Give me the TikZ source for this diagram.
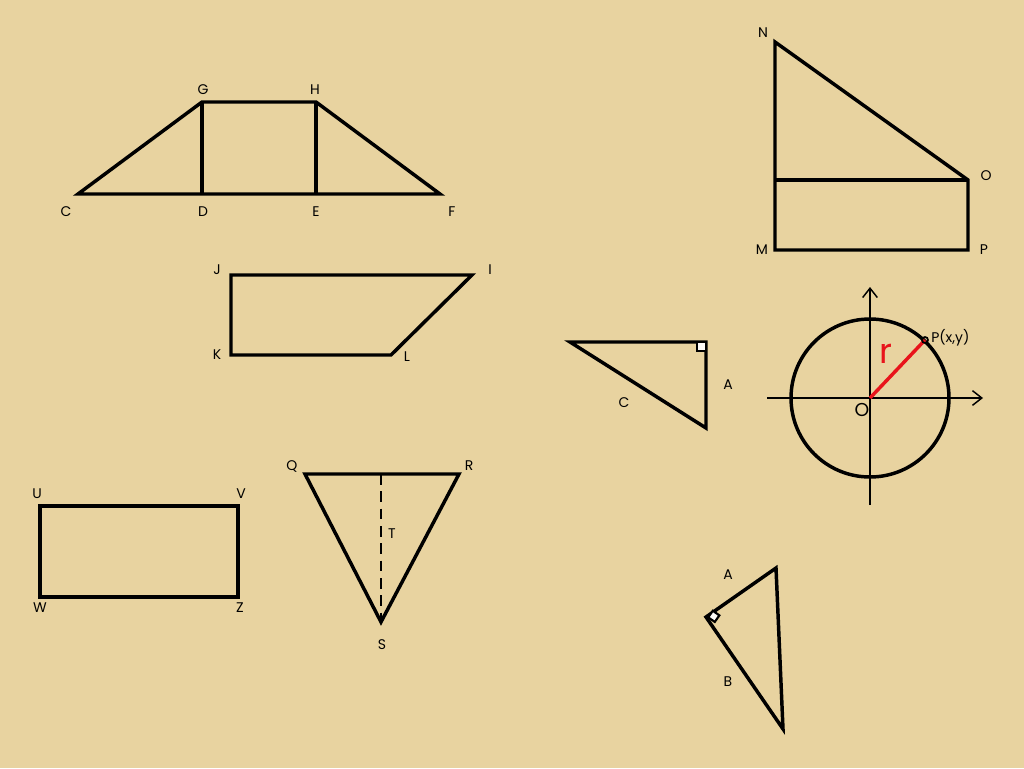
\documentclass[tikz,border=0pt]{standalone}
\usepackage{fontspec}
\setmainfont{Poppins}
\usetikzlibrary{arrows.meta}
\definecolor{paper}{HTML}{E8D3A0}
\definecolor{redline}{HTML}{E8141B}
\begin{document}
\begin{tikzpicture}[x=0.75pt,y=-0.75pt,
  fig/.style={draw=black,line width=2.6pt,line join=miter},
  thinaxis/.style={draw=black,line width=1.1pt},
  lbl/.style={font=\fontsize{10.5}{12}\selectfont,inner sep=0pt},
  pt/.style={inner sep=0pt,minimum size=0pt}]
\fill[paper] (0,0) rectangle (1024,768);
\useasboundingbox (0,0) rectangle (1024,768);
% trapezoid
\coordinate (C) at (78,194); \coordinate (D) at (202,194); \coordinate (E) at (316,194);
\coordinate (F) at (440,194); \coordinate (G) at (202,102); \coordinate (H) at (316,102);
\draw[fig] (C) -- (F) -- (H) -- (G) -- cycle;
\draw[fig] (G) -- (D); \draw[fig] (H) -- (E);
\node[lbl] (lG) at (203,90) {G}; \node[lbl] (lH) at (315,90) {H};
\node[lbl] (lC) at (66,212) {C}; \node[lbl] (lD) at (203,212) {D};
\node[lbl] (lE) at (316,212) {E}; \node[lbl] (lF) at (452,212) {F};
% NOPM
\coordinate (N) at (775,42); \coordinate (O) at (968,180); \coordinate (M) at (775,250);
\coordinate (P) at (968,250); \coordinate (X) at (775,180);
\draw[fig] (N) -- (O) -- (P) -- (M) -- cycle;
\draw[fig] (X) -- (O);
\node[lbl] (lN) at (763,33) {N}; \node[lbl] (lO) at (986,176) {O};
\node[lbl] (lM) at (762,250) {M}; \node[lbl] (lP) at (984,250) {P};
% JIKL
\coordinate (J) at (231,275); \coordinate (I) at (472,275); \coordinate (L) at (391,355); \coordinate (K) at (231,355);
\draw[fig] (J) -- (I) -- (L) -- (K) -- cycle;
\node[lbl] (lJ) at (217,270) {J}; \node[lbl] (lI) at (490,270) {I};
\node[lbl] (lK) at (217,355) {K}; \node[lbl] (lL) at (407,357) {L};
% right triangle
\coordinate (T1) at (570,342); \coordinate (T2) at (706,342); \coordinate (T3) at (706,428);
\draw[fig] (T1) -- (T2) -- (T3) -- cycle;
\draw[line width=1.6pt,fill=white!92!paper] (697,342) rectangle (706,351);
\node[lbl] (lA1) at (728,385) {A}; \node[lbl] (lC1) at (624,403) {C};
% circle
\coordinate (Oc) at (870,398);
\coordinate (Px) at (925,340);
\draw[thinaxis,-{Straight Barb[length=7pt,width=11pt]}] (767,398) -- (983,398);
\draw[thinaxis,-{Straight Barb[length=7pt,width=11pt]}] (870,505) -- (870,287);
\draw[fig] (Oc) circle[radius=79];
\draw[redline,line width=2.6pt] (Oc) -- (Px);
\node[pt,circle,draw=black,line width=1.3pt,minimum size=4.5pt] (Pdot) at (Px) {};
\node[lbl,anchor=west] (lPxy) at (931,338) {P(x,y)};
\node[font=\fontsize{26}{28}\selectfont,text=redline,inner sep=0pt] (lr) at (886,354) {r};
\node[font=\fontsize{14}{16}\selectfont,inner sep=0pt] (lOc) at (862,410) {O};
% QRS
\coordinate (Q) at (305,474); \coordinate (R) at (459,474); \coordinate (S) at (381,622); \coordinate (Tt) at (381,474);
\draw[fig] (Q) -- (R) -- (S) -- cycle;
\draw[black,line width=2pt,dash pattern=on 8pt off 5pt] (Tt) -- (S);
\node[lbl] (lQ) at (292,466) {Q}; \node[lbl] (lR) at (469,466) {R};
\node[lbl] (lT) at (392,534) {T}; \node[lbl] (lS) at (382,645) {S};
% UVWZ
\coordinate (U) at (40,506); \coordinate (V) at (238,506); \coordinate (Z) at (238,597); \coordinate (W) at (40,597);
\draw[fig] (U) -- (V) -- (Z) -- (W) -- cycle;
\node[lbl] (lU) at (37,494) {U}; \node[lbl] (lV) at (241,494) {V};
\node[lbl] (lW) at (40,608) {W}; \node[lbl] (lZ) at (240,608) {Z};
% bottom triangle
\coordinate (B1) at (706,617); \coordinate (B2) at (776,568); \coordinate (B3) at (783,729);
\draw[fig] (B1) -- (B2) -- (B3) -- cycle;
\draw[line width=1.6pt,fill=white!92!paper,rotate around={-35:(B1)}] (B1) ++(2,-1) rectangle ++(8,-8);
\node[lbl] (lA2) at (728,575) {A}; \node[lbl] (lB2) at (728,682) {B};
\end{tikzpicture}
\end{document}
